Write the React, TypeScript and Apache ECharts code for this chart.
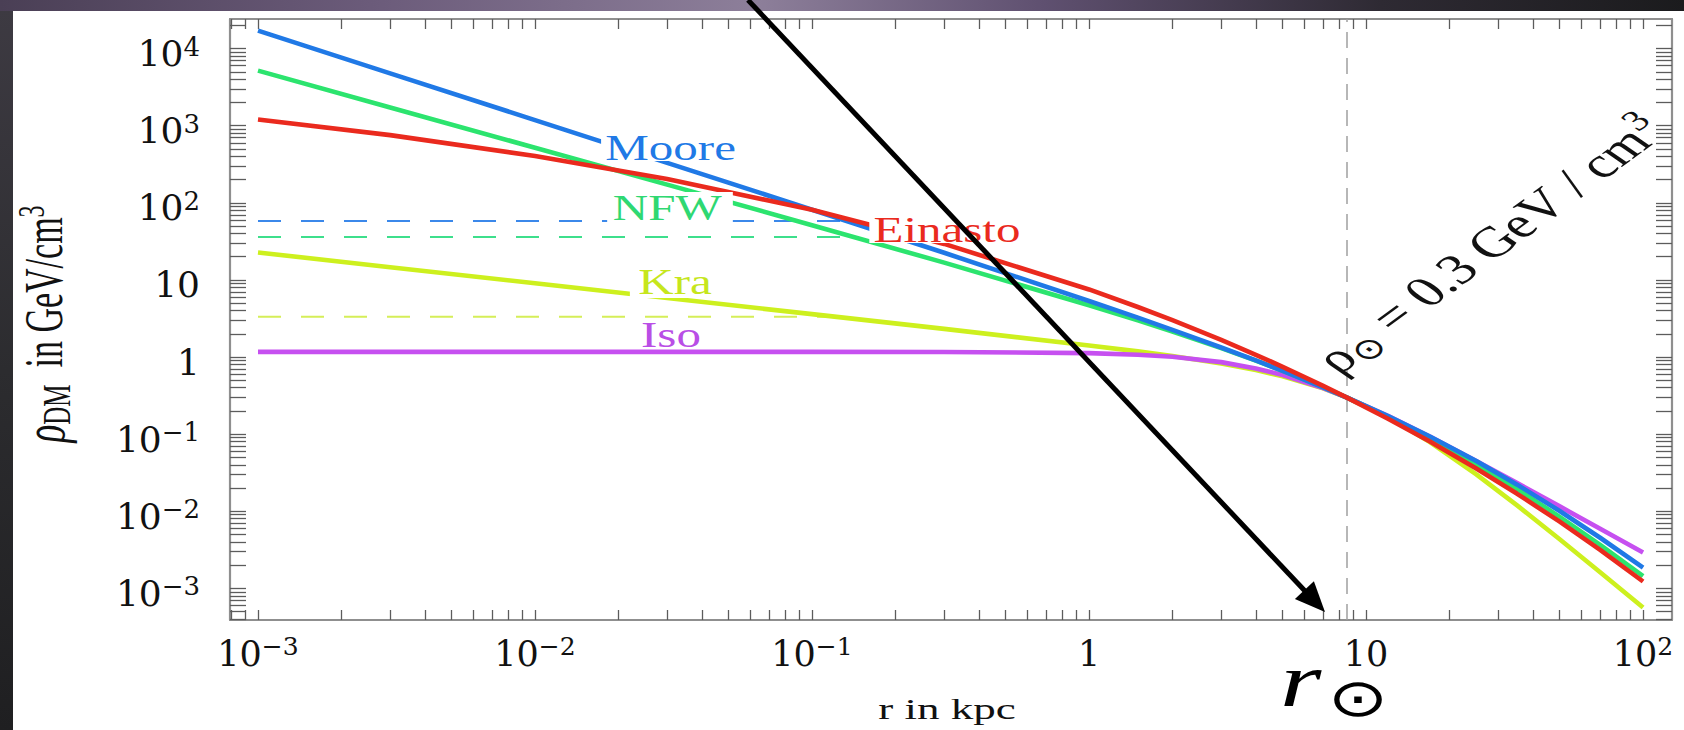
import React, { useEffect, useRef } from "react";
import * as echarts from "echarts";

// Galactocentric radius r (kpc) at which each profile is sampled
const radii = [0.001, 0.003, 0.01, 0.03, 0.1, 0.3, 1, 1.5, 2, 3, 4, 5, 7, 8.5, 12, 17, 25, 35, 50, 70, 100];
// Dark matter density rho_DM (GeV/cm^3)
const mooreRho = [17096, 4780, 1182, 330.1, 81.33, 22.47, 5.333, 3.236, 2.252, 1.33, 0.9024, 0.6606, 0.4041, 0.3, 0.1715, 0.0932, 0.04469, 0.02228, 0.01007, 0.004526, 0.001849];
const nfwRho = [5178, 1725.5, 517.3, 172.1, 51.27, 16.75, 4.697, 2.987, 2.14, 1.305, 0.899, 0.6628, 0.4059, 0.3, 0.1686, 0.089, 0.04092, 0.01956, 0.008454, 0.003653, 0.001438];
const einastoRho = [1201.5, 754.6, 405.4, 203.5, 81.2, 29.3, 7.523, 4.457, 3.004, 1.666, 1.069, 0.7464, 0.4228, 0.3, 0.1585, 0.08005, 0.03577, 0.01694, 0.007317, 0.003157, 0.001226];
const kraRho = [22.69, 14.62, 9.034, 5.822, 3.596, 2.315, 1.413, 1.183, 1.031, 0.8251, 0.6781, 0.5628, 0.3915, 0.3, 0.1662, 0.07884, 0.03009, 0.012, 0.004333, 0.001617, 0.0005648];
const isoRho = [1.167, 1.167, 1.167, 1.167, 1.1665, 1.1628, 1.1221, 1.0706, 1.006, 0.8581, 0.7116, 0.5835, 0.3943, 0.3, 0.1726, 0.09291, 0.04489, 0.02334, 0.01155, 0.005924, 0.00291];

// dashed (cored) versions of the cuspy profiles
const mooreCoreR = [0.001, 0.1345];
const mooreCoreRho = [58, 58];
const nfwCoreR = [0.001, 0.142];
const nfwCoreRho = [36, 36];
const kraCoreR = [0.001, 0.121];
const kraCoreRho = [3.33, 3.33];

const rSun = 8.5;

// axis ranges
const X_MIN = 7.924e-4;
const X_MAX = 127.2;
const Y_MIN = 3.882e-4;
const Y_MAX = 24210;

// tick labels
const xLabelValues = [0.001, 0.01, 0.1, 1, 10, 100];
const xLabelText = ["{b|10}{s|−3}", "{b|10}{s|−2}", "{b|10}{s|−1}", "{b|1}", "{b|10}", "{b|10}{s|2}"];
const yLabelValues = [0.001, 0.01, 0.1, 1, 10, 100, 1000, 10000];
const yLabelText = ["{b|10}{s|−3}", "{b|10}{s|−2}", "{b|10}{s|−1}", "{b|1}", "{b|10}", "{b|10}{s|2}", "{b|10}{s|3}", "{b|10}{s|4}"];
const decades = [0.0001, 0.001, 0.01, 0.1, 1, 10, 100, 1000, 10000];
const multipliers = [1, 2, 3, 4, 5, 6, 7, 8, 9];

const COLORS = {
  moore: "#2079e6",
  nfw: "#2ce46e",
  einasto: "#ea2a1e",
  kra: "#cdf01e",
  iso: "#c650f0",
};

const pairs = (xs: number[], ys: number[]) => xs.map((x, i) => [x, ys[i]]);

const ticksIn = (lo: number, hi: number) => {
  const out: number[] = [];
  decades.forEach((d) =>
    multipliers.forEach((m) => {
      const v = +(d * m).toPrecision(6);
      if (v >= lo && v <= hi) out.push(v);
    })
  );
  return out;
};

const labelFor = (vals: number[], texts: string[]) => (v: number) => {
  const i = vals.findIndex((t) => Math.abs(Math.log10(t) - Math.log10(v)) < 0.01);
  return i >= 0 ? texts[i] : "";
};

const xTickRich = {
  b: { fontFamily: "DejaVu Serif", fontSize: 35, lineHeight: 40, color: "#111" },
  s: { fontFamily: "DejaVu Serif", fontSize: 25, lineHeight: 8, verticalAlign: "top", color: "#111" },
};
const yTickRich = {
  b: { fontFamily: "DejaVu Serif", fontSize: 36, lineHeight: 40, color: "#111" },
  s: { fontFamily: "DejaVu Serif", fontSize: 26, lineHeight: 8, verticalAlign: "top", color: "#111" },
};

const FRAME = { color: "#8f8f8f", width: 2.2 };
const TICK = { color: "#5c5c5c", width: 1.3 };

export default function App() {
  const ref = useRef<HTMLDivElement>(null);

  useEffect(() => {
    if (!ref.current) return;
    const chart = echarts.init(ref.current, null, { renderer: "svg" });
    const xTicks = ticksIn(X_MIN, X_MAX);
    const yTicks = ticksIn(Y_MIN, Y_MAX);

    const curve = (name: string, data: number[], color: string, z: number) => ({
      type: "line",
      name,
      data: pairs(radii, data),
      showSymbol: false,
      symbol: "none",
      smooth: false,
      silent: true,
      z,
      lineStyle: { color, width: 4.6, join: "round" },
    });
    const core = (name: string, xs: number[], ys: number[], color: string) => ({
      type: "line",
      name,
      data: pairs(xs, ys),
      showSymbol: false,
      symbol: "none",
      silent: true,
      z: 1,
      lineStyle: { color, width: 2, type: [23, 20] },
    });

    const curveLabel = (text: string, color: string, cx: number, cy: number, pad: number[]) => ({
      type: "group",
      x: cx,
      y: cy,
      scaleX: 1.4,
      children: [
        {
          type: "text",
          z: 100,
          style: {
            text,
            fill: color,
            fontFamily: "Liberation Serif",
            fontSize: 35,
            align: "center",
            verticalAlign: "middle",
            backgroundColor: "#ffffff",
            padding: pad,
            lineHeight: 26,
          },
        },
      ],
    });

    const option: any = {
      animation: false,
      backgroundColor: "transparent",
      grid: { left: 230, top: 19, width: 1442, height: 601, containLabel: false, outerBoundsMode: "none" },
      xAxis: [
        {
          type: "log",
          logBase: 10,
          min: X_MIN,
          max: X_MAX,
          position: "bottom",
          splitLine: { show: false },
          minorTick: { show: false },
          axisLine: { show: true, onZero: false, lineStyle: FRAME },
          axisTick: { show: true, inside: true, length: 10, customValues: xTicks, lineStyle: TICK },
          axisLabel: {
            customValues: xLabelValues,
            formatter: labelFor(xLabelValues, xLabelText),
            margin: 14,
            rich: xTickRich,
            color: "#111",
          },
        },
        {
          type: "log",
          logBase: 10,
          min: X_MIN,
          max: X_MAX,
          position: "top",
          splitLine: { show: false },
          axisLine: { show: true, onZero: false, lineStyle: FRAME },
          axisTick: { show: true, inside: true, length: 10, customValues: xTicks, lineStyle: TICK },
          axisLabel: { show: false },
        },
      ],
      yAxis: [
        {
          type: "log",
          logBase: 10,
          min: Y_MIN,
          max: Y_MAX,
          position: "left",
          splitLine: { show: false },
          minorTick: { show: false },
          axisLine: { show: true, onZero: false, lineStyle: FRAME },
          axisTick: { show: true, inside: true, length: 16, customValues: yTicks, lineStyle: TICK },
          axisLabel: {
            customValues: yLabelValues,
            formatter: labelFor(yLabelValues, yLabelText),
            margin: 30,
            padding: [10, 0, 0, 0],
            rich: yTickRich,
            color: "#111",
          },
        },
        {
          type: "log",
          logBase: 10,
          min: Y_MIN,
          max: Y_MAX,
          position: "right",
          splitLine: { show: false },
          axisLine: { show: true, onZero: false, lineStyle: FRAME },
          axisTick: { show: true, inside: true, length: 16, customValues: yTicks, lineStyle: TICK },
          axisLabel: { show: false },
        },
      ],
      series: [
        core("Moore core", mooreCoreR, mooreCoreRho, "#3b88ea"),
        core("NFW core", nfwCoreR, nfwCoreRho, "#3ddf8c"),
        core("Kra core", kraCoreR, kraCoreRho, "#d5ee58"),
        {
          ...curve("Kra", kraRho, COLORS.kra, 2),
          markLine: {
            silent: true,
            symbol: "none",
            label: { show: false },
            lineStyle: { color: "#a0a0a0", width: 1.5, type: [16, 10] },
            data: [{ xAxis: rSun }],
          },
        },
        curve("Iso", isoRho, COLORS.iso, 3),
        curve("NFW", nfwRho, COLORS.nfw, 4),
        curve("Moore", mooreRho, COLORS.moore, 5),
        curve("Einasto", einastoRho, COLORS.einasto, 6),
      ],
      graphic: [
        curveLabel("Moore", COLORS.moore, 672, 148, [0, 5, 0, 3]),
        curveLabel("NFW", "#2fd872", 670, 208, [6, 8, 0, 4]),
        curveLabel("Einasto", COLORS.einasto, 947, 230, [0, 3, 0, 3]),
        curveLabel("Kra", "#c6e61c", 675, 282, [0, 6, 6, 6]),
        curveLabel("Iso", "#b94ee6", 671, 335, [0, 3, 0, 3]),
        // axis titles (horizontally stretched like the reference slide)
        {
          type: "group",
          x: 947,
          y: 709,
          scaleX: 1.5,
          children: [
            {
              type: "text",
              z: 100,
              style: {
                text: "r in kpc",
                fill: "#111",
                fontFamily: "Liberation Serif",
                fontSize: 30,
                lineHeight: 22,
                align: "center",
                verticalAlign: "middle",
              },
            },
          ],
        },
        {
          type: "group",
          x: 44,
          y: 324,
          scaleX: 1.6,
          children: [
            {
              type: "text",
              z: 100,
              rotation: Math.PI / 2,
              style: {
                text: "{r|ρ}{d|DM}{t|  in GeV/cm}{p|3}",
                align: "center",
                verticalAlign: "middle",
                fill: "#111",
                rich: {
                  r: { fontFamily: "Liberation Serif", fontStyle: "italic", fontSize: 37, lineHeight: 40, fill: "#111" },
                  d: { fontFamily: "Liberation Serif", fontSize: 25, lineHeight: 20, verticalAlign: "bottom", fill: "#111" },
                  t: { fontFamily: "Liberation Serif", fontSize: 34, lineHeight: 40, fill: "#111" },
                  p: { fontFamily: "Liberation Serif", fontSize: 24, lineHeight: 14, verticalAlign: "top", fill: "#111" },
                },
              },
            },
          ],
        },
        {
          type: "group",
          x: 1489,
          y: 244,
          scaleX: 1.4,
          children: [
            {
              type: "text",
              z: 100,
              rotation: (46 * Math.PI) / 180,
              style: {
                text: "{a|ρ}{b|⊙}{c| = 0.3 GeV / cm}{d|3}",
                align: "center",
                verticalAlign: "middle",
                fill: "#111",
                rich: {
                  a: { fontFamily: "Liberation Serif", fontSize: 43, lineHeight: 50, fill: "#111" },
                  b: { fontFamily: "DejaVu Sans", fontSize: 29, lineHeight: 24, verticalAlign: "bottom", fill: "#111" },
                  c: { fontFamily: "Liberation Serif", fontSize: 43, lineHeight: 50, fill: "#111" },
                  d: { fontFamily: "Liberation Serif", fontSize: 29, lineHeight: 16, verticalAlign: "top", fill: "#111" },
                },
              },
            },
          ],
        },
        {
          type: "group",
          x: 1330,
          y: 685,
          scaleX: 1.4,
          children: [
            {
              type: "text",
              z: 100,
              x: -21,
              y: -4,
              style: {
                text: "r",
                fill: "#000",
                fontFamily: "Liberation Serif",
                fontStyle: "italic",
                fontSize: 76,
                align: "center",
                verticalAlign: "middle",
              },
            },
            {
              type: "text",
              z: 100,
              x: 20,
              y: 13,
              style: {
                text: "⊙",
                fill: "#000",
                fontFamily: "DejaVu Sans",
                fontSize: 52,
                align: "center",
                verticalAlign: "middle",
              },
            },
          ],
        },
        {
          type: "line",
          z: 120,
          shape: { x1: 748, y1: 0, x2: 1305, y2: 591 },
          style: { stroke: "#000", lineWidth: 5 },
        },
        {
          type: "polygon",
          z: 120,
          shape: { points: [[1325, 612], [1294.9, 599.1], [1313.9, 581.3]] },
          style: { fill: "#000" },
        },
      ],
    };

    chart.setOption(option);
    return () => chart.dispose();
  }, []);

  return (
    <div style={{ position: "fixed", left: 0, top: 0, width: 1684, height: 730, background: "#2a2a2d", overflow: "hidden" }}>
      <div
        style={{
          position: "absolute",
          left: 0,
          top: 0,
          width: 1684,
          height: 11,
          background: "linear-gradient(90deg, #4a3f55 0%, #6b5b7a 22%, #8d7f9a 45%, #5f5070 62%, #2e2a33 82%, #1b1b1d 100%)",
        }}
      />
      <div
        style={{
          position: "absolute",
          left: 0,
          top: 11,
          width: 13,
          height: 719,
          background: "linear-gradient(180deg, #3d3a42 0%, #2c2c2f 50%, #1f1f21 100%)",
        }}
      />
      <div style={{ position: "absolute", left: 13, top: 11, width: 1671, height: 719, background: "#ffffff" }} />
      <div ref={ref} style={{ position: "absolute", left: 0, top: 0, width: 1684, height: 730 }} />
    </div>
  );
}
